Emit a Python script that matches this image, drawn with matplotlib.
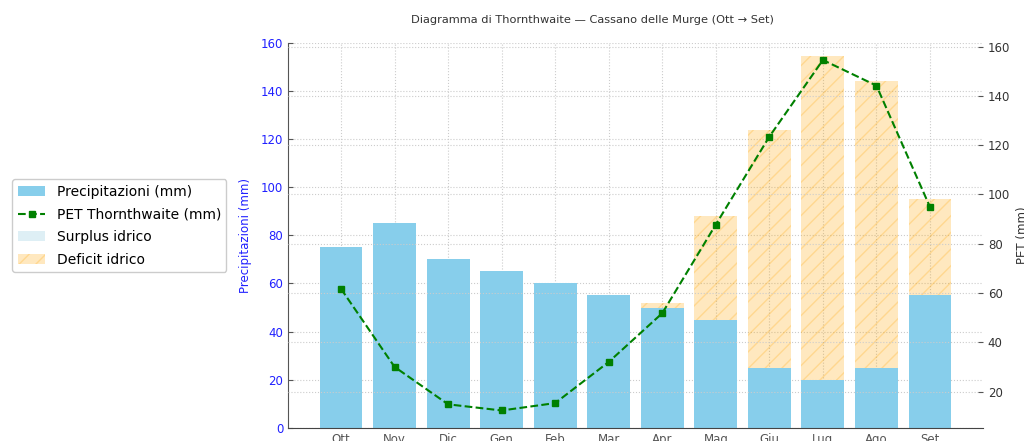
import numpy as np
import matplotlib
matplotlib.use("Agg")
import matplotlib.pyplot as plt

# monthly data, hydrological year Oct -> Sep
mesi = ["Ott", "Nov", "Dic", "Gen", "Feb", "Mar", "Apr", "Mag", "Giu", "Lug", "Ago", "Set"]
precip = [75, 85, 70, 65, 60, 55, 50, 45, 25, 20, 25, 55]
pet = [61.7, 30, 14.8, 12.3, 15.3, 32, 51.8, 87.8, 123.5, 154.6, 144.2, 94.9]

x = np.arange(len(mesi))
P = np.array(precip)
E = np.array(pet)
surplus = np.where(P > E, P - E, 0)
deficit = np.where(E > P, E - P, 0)

fig = plt.figure(figsize=(10.24, 4.41), dpi=100)
ax = fig.add_axes([288/1024, 1 - 428/441, (983-288)/1024, (428-42.5)/441])

txt = "#333333"
blue = "#2020ff"

ax.bar(x, P, width=0.8, color="skyblue", label="Precipitazioni (mm)", zorder=2)
ax.bar(x, surplus, bottom=E, width=0.8, color="lightblue", alpha=0.4,
       label="Surplus idrico", zorder=1)
ax.bar(x, deficit, bottom=P, width=0.8, color="orange", alpha=0.25,
       hatch="//", edgecolor="orange", linewidth=0, label="Deficit idrico", zorder=2)

ax2 = ax.twinx()
ax2.plot(x, E, "g--s", markersize=5, linewidth=1.5, label="PET Thornthwaite (mm)")

ax.set_xticks(x)
ax.set_xticklabels(mesi, fontsize=8.5, color=txt)
ax.set_yticks(np.arange(0, 161, 20))
ax.tick_params(axis="y", direction="in", colors="#555555", labelcolor=blue, labelsize=8.5)
ax.tick_params(axis="x", direction="in", colors="#555555")
ax.set_ylabel("Precipitazioni (mm)", color=blue, fontsize=8.5, labelpad=6)
ax2.set_ylabel("PET (mm)", color=txt, fontsize=8.5, labelpad=4)
ax2.tick_params(axis="y", direction="in", colors="#555555", labelcolor=txt, labelsize=8.5)
ax2.set_yticks(np.arange(20, 161, 20))

ax.grid(True, linestyle=":", color="#cccccc", linewidth=0.8, zorder=0)
ax2.grid(True, axis="y", linestyle=":", color="#cccccc", linewidth=0.8)
ax.set_axisbelow(True)
ax2.set_axisbelow(True)
for a in (ax, ax2):
    a.spines["top"].set_visible(False)
    a.spines["right"].set_visible(False)
    a.spines["left"].set_color("#555555")
    a.spines["bottom"].set_color("#444444")
ax2.spines["left"].set_visible(False)
ax2.spines["bottom"].set_visible(False)
ax.set_zorder(0)
ax2.patch.set_visible(False)

h1, l1 = ax.get_legend_handles_labels()
h2, l2 = ax2.get_legend_handles_labels()
handles = [h1[0], h2[0], h1[1], h1[2]]
labels = [l1[0], l2[0], l1[1], l1[2]]
fig.legend(handles, labels, loc="center left", bbox_to_anchor=(0.005, 0.488),
           fontsize=10, labelspacing=0.62, framealpha=1, edgecolor="#cccccc")

fig.text(592/1024, 1 - 20/441, "Diagramma di Thornthwaite — Cassano delle Murge (Ott → Set)",
         ha="center", va="center", fontsize=8.2, color=txt)

fig.savefig("out.png", dpi=100)
